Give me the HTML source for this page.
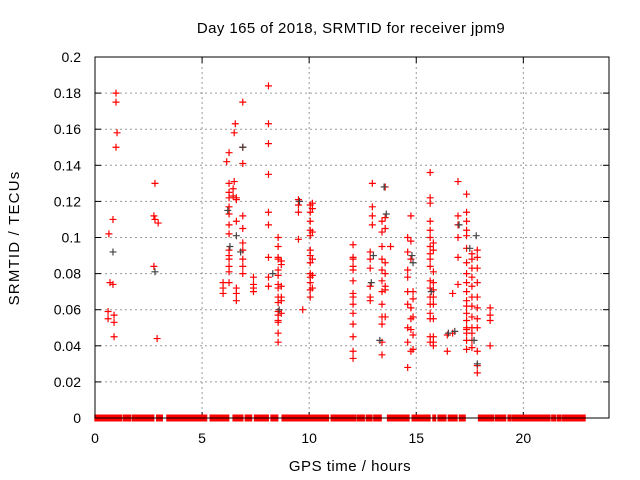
<!DOCTYPE html>
<html><head><meta charset="utf-8"><style>
body{margin:0;background:#fff}
svg{display:block;font-family:"Liberation Sans",sans-serif}
</style></head><body>
<svg id="chart" width="640" height="480" viewBox="0 0 640 480">
<rect width="640" height="480" fill="#fff"/>
<text x="351" y="33" font-size="15" letter-spacing="0.4" text-anchor="middle">Day 165 of 2018, SRMTID for receiver jpm9</text>
<text transform="translate(19,238) rotate(-90)" font-size="15" letter-spacing="1.2" text-anchor="middle">SRMTID / TECUs</text>
<text x="350" y="471" font-size="15" letter-spacing="0.5" text-anchor="middle">GPS time / hours</text>
<g id="grid"></g>
<g id="ticks"></g>
<g id="zero"></g>
<g id="red"></g>
<g id="gray"></g>
<rect x="95" y="57" width="514" height="361" fill="none" stroke="#000" stroke-width="1"/>
</svg>
<script>
const xTicks=[0,5,10,15,20];
const yTicks=[0,0.02,0.04,0.06,0.08,0.1,0.12,0.14,0.16,0.18,0.2];
const yTickLabels=["0","0.02","0.04","0.06","0.08","0.1","0.12","0.14","0.16","0.18","0.2"];
const zeroBands=[[0,1.24],[1.33,1.67],[1.76,2.74],[2.88,3.14],[3.36,5.21],[5.38,6.24],[6.45,6.9],[7.02,7.31],[7.45,8.09],[8.22,8.53],[8.74,10.9],[11.03,12.16],[12.24,12.57],[12.67,12.93],[13.02,13.36],[13.66,14.66],[14.81,15.64],[15.78,15.9],[16.02,16.38],[16.5,16.9],[17.02,17.28],[17.91,18.6],[18.69,19.17],[19.29,19.4],[19.47,21.24],[21.33,21.5],[21.59,21.76],[21.84,22.88]];
const redHours=[0.65,0.98,0.98,1.03,0.98,0.84,0.7,0.84,0.61,0.61,0.89,0.89,0.89,
2.8,2.75,2.8,2.95,2.75,2.9,
6.26,6.26,6.26,6.26,6.26,6.26,6.26,6.26,6.26,6.26,6.26,6.26,6.26,6.26,6.15,
5.98,5.98,5.98,6.6,6.6,6.6,6.6,6.6,6.6,6.55,6.5,6.5,6.45,6.45,
6.9,6.9,6.9,6.9,6.9,6.9,6.9,6.9,6.9,6.9,
7.4,7.4,7.4,7.4,
8.1,8.1,8.1,8.1,8.1,8.1,8.1,8.1,8.1,
8.55,8.55,8.55,8.55,8.55,8.55,8.55,8.55,8.55,8.55,8.55,8.55,8.55,8.55,8.55,8.55,
8.7,8.7,8.7,8.7,8.7,8.7,
9.5,9.5,9.5,9.5,9.7,
10.05,10.05,10.05,10.05,10.05,10.05,10.05,10.05,10.05,10.05,10.05,10.05,10.05,
10.15,10.15,10.15,10.15,10.15,10.15,
12.05,12.05,12.05,12.05,12.05,12.05,12.05,12.05,12.05,12.05,12.05,12.05,12.05,12.05,
12.85,12.85,12.85,12.85,12.85,12.85,12.95,12.95,12.95,12.95,
13.4,13.4,13.4,13.4,13.4,13.4,13.4,13.4,13.4,13.4,13.4,13.4,
13.55,13.55,13.55,13.55,13.55,13.55,13.55,13.55,13.8,
14.6,14.6,14.6,14.6,14.6,14.6,14.6,14.6,14.6,
14.75,14.75,14.75,14.75,14.75,14.75,14.75,
14.85,14.85,14.85,14.85,14.85,
15.65,15.65,15.65,15.65,15.65,15.65,15.65,15.65,15.65,15.65,15.65,15.65,15.65,15.65,15.65,15.65,15.65,15.65,
15.8,15.8,15.8,15.8,15.8,15.8,15.8,15.8,15.8,15.8,15.8,
16.45,16.45,16.7,16.7,
16.95,16.95,16.95,16.95,16.95,16.95,
17.35,17.35,17.35,17.35,17.35,17.35,17.35,17.35,17.35,17.35,17.35,17.35,17.35,17.35,17.35,17.35,17.35,17.35,17.35,
17.6,17.6,17.6,17.6,17.6,17.6,17.6,17.6,17.6,17.6,17.6,17.6,
17.85,17.85,17.85,17.85,17.85,17.85,17.85,17.85,17.85,17.85,17.85,
18.45,18.45,18.45,18.45];
const redValues=[0.102,0.180,0.175,0.158,0.150,0.110,0.075,0.074,0.059,0.055,0.057,0.053,0.045,
0.130,0.112,0.110,0.108,0.084,0.044,
0.147,0.130,0.125,0.122,0.117,0.113,0.107,0.102,0.093,0.090,0.088,0.084,0.081,0.075,0.142,
0.075,0.072,0.069,0.122,0.121,0.109,0.072,0.069,0.065,0.163,0.158,0.131,0.127,0.123,
0.175,0.150,0.141,0.112,0.105,0.097,0.093,0.088,0.084,0.080,
0.078,0.074,0.072,0.070,
0.184,0.163,0.152,0.135,0.114,0.107,0.089,0.078,0.073,
0.100,0.095,0.089,0.088,0.082,0.079,0.074,0.072,0.067,0.064,0.059,0.057,0.054,0.053,0.047,0.042,
0.087,0.085,0.073,0.067,0.065,0.058,
0.121,0.118,0.114,0.099,0.060,
0.118,0.114,0.109,0.104,0.101,0.093,0.090,0.086,0.080,0.078,0.075,0.071,0.067,
0.119,0.116,0.103,0.088,0.079,0.072,
0.096,0.089,0.088,0.084,0.082,0.076,0.069,0.067,0.063,0.058,0.052,0.045,0.037,0.033,
0.092,0.088,0.083,0.073,0.067,0.065,0.130,0.117,0.112,0.107,
0.109,0.103,0.095,0.088,0.082,0.076,0.070,0.063,0.056,0.052,0.042,0.035,
0.128,0.111,0.105,0.086,0.080,0.073,0.071,0.056,0.095,
0.100,0.092,0.082,0.078,0.070,0.063,0.050,0.042,0.028,
0.112,0.098,0.088,0.061,0.055,0.049,0.037,
0.070,0.066,0.056,0.046,0.038,
0.136,0.122,0.119,0.109,0.104,0.100,0.095,0.091,0.088,0.084,0.076,0.072,0.067,0.063,0.058,0.055,0.045,0.042,
0.097,0.093,0.081,0.075,0.071,0.067,0.063,0.055,0.045,0.042,0.040,
0.046,0.037,0.069,0.047,
0.131,0.112,0.107,0.100,0.089,0.074,
0.124,0.114,0.109,0.104,0.101,0.094,0.086,0.080,0.075,0.070,0.065,0.062,0.058,0.054,0.050,0.049,0.047,0.043,0.038,
0.091,0.088,0.083,0.078,0.073,0.067,0.062,0.056,0.050,0.047,0.043,0.039,
0.093,0.089,0.083,0.075,0.067,0.061,0.055,0.050,0.037,0.029,0.025,
0.061,0.057,0.054,0.040];
const grayHours=[0.84,2.8,6.2,6.3,6.6,6.9,6.8,8.3,8.6,9.55,12.9,13.0,13.5,13.6,13.3,14.8,14.85,15.7,16.5,16.8,17.0,17.5,17.8,17.85,17.7];
const grayValues=[0.092,0.081,0.115,0.095,0.101,0.150,0.092,0.080,0.060,0.120,0.075,0.090,0.128,0.113,0.043,0.090,0.086,0.070,0.047,0.048,0.107,0.094,0.101,0.030,0.043];

const X0=95,X1=609,Y0=418,Y1=57,XMAX=24,YMAX=0.2;
function xs(h){return X0+(X1-X0)*h/XMAX;}
function ys(v){return Y0-(Y0-Y1)*v/YMAX;}
const NS="http://www.w3.org/2000/svg";
function mk(tag,attrs,parent){const e=document.createElementNS(NS,tag);for(const k in attrs)e.setAttribute(k,attrs[k]);parent.appendChild(e);return e;}
const grid=document.getElementById('grid'),ticks=document.getElementById('ticks');
yTicks.forEach((v,i)=>{
  const y=ys(v);
  if(v>0&&v<YMAX){const g=mk('line',{x1:X0,x2:X1,y1:y,y2:y,stroke:'#999','stroke-dasharray':'2,3','stroke-width':1},grid);
  
  }
  mk('line',{x1:X0,x2:X0+6,y1:y,y2:y,stroke:'#000'},ticks);
  mk('line',{x1:X1-6,x2:X1,y1:y,y2:y,stroke:'#000'},ticks);
  const t=mk('text',{x:81,y:y+5,'font-size':14,'text-anchor':'end'},ticks);
  t.textContent=yTickLabels[i];
  
  
});
xTicks.forEach(h=>{
  const x=xs(h);
  if(h>0){const g=mk('line',{x1:x,x2:x,y1:Y1,y2:Y0,stroke:'#999','stroke-dasharray':'2,3','stroke-width':1},grid);
  
  }
  mk('line',{x1:x,x2:x,y1:Y0,y2:Y0-6,stroke:'#000'},ticks);
  mk('line',{x1:x,x2:x,y1:Y1,y2:Y1+6,stroke:'#000'},ticks);
  const t=mk('text',{x:x,y:443,'font-size':14,'text-anchor':'middle'},ticks);
  t.textContent=String(h);
  
  
});
const zg=document.getElementById('zero');
zeroBands.forEach(b=>{
  const r=mk('rect',{x:xs(b[0])-0.7,y:ys(0)-3.5,width:xs(b[1])-xs(b[0])+1.4,height:7,fill:'#f00'},zg);
  
  
});
function cross(h,v,color,parent,name){
  const x=xs(h),y=ys(v);
  const p=mk('path',{d:`M${x-3.5} ${y}H${x+3.5}M${x} ${y-3.5}V${y+3.5}`,stroke:color,'stroke-width':1.2,fill:'none'},parent);
  
  
}
const rg=document.getElementById('red'),gg=document.getElementById('gray');
redHours.forEach((h,i)=>cross(h,redValues[i],'#f00',rg,'red-point'));
grayHours.forEach((h,i)=>cross(h,grayValues[i],'#444',gg,'gray-point'));
</script>
</body></html>
